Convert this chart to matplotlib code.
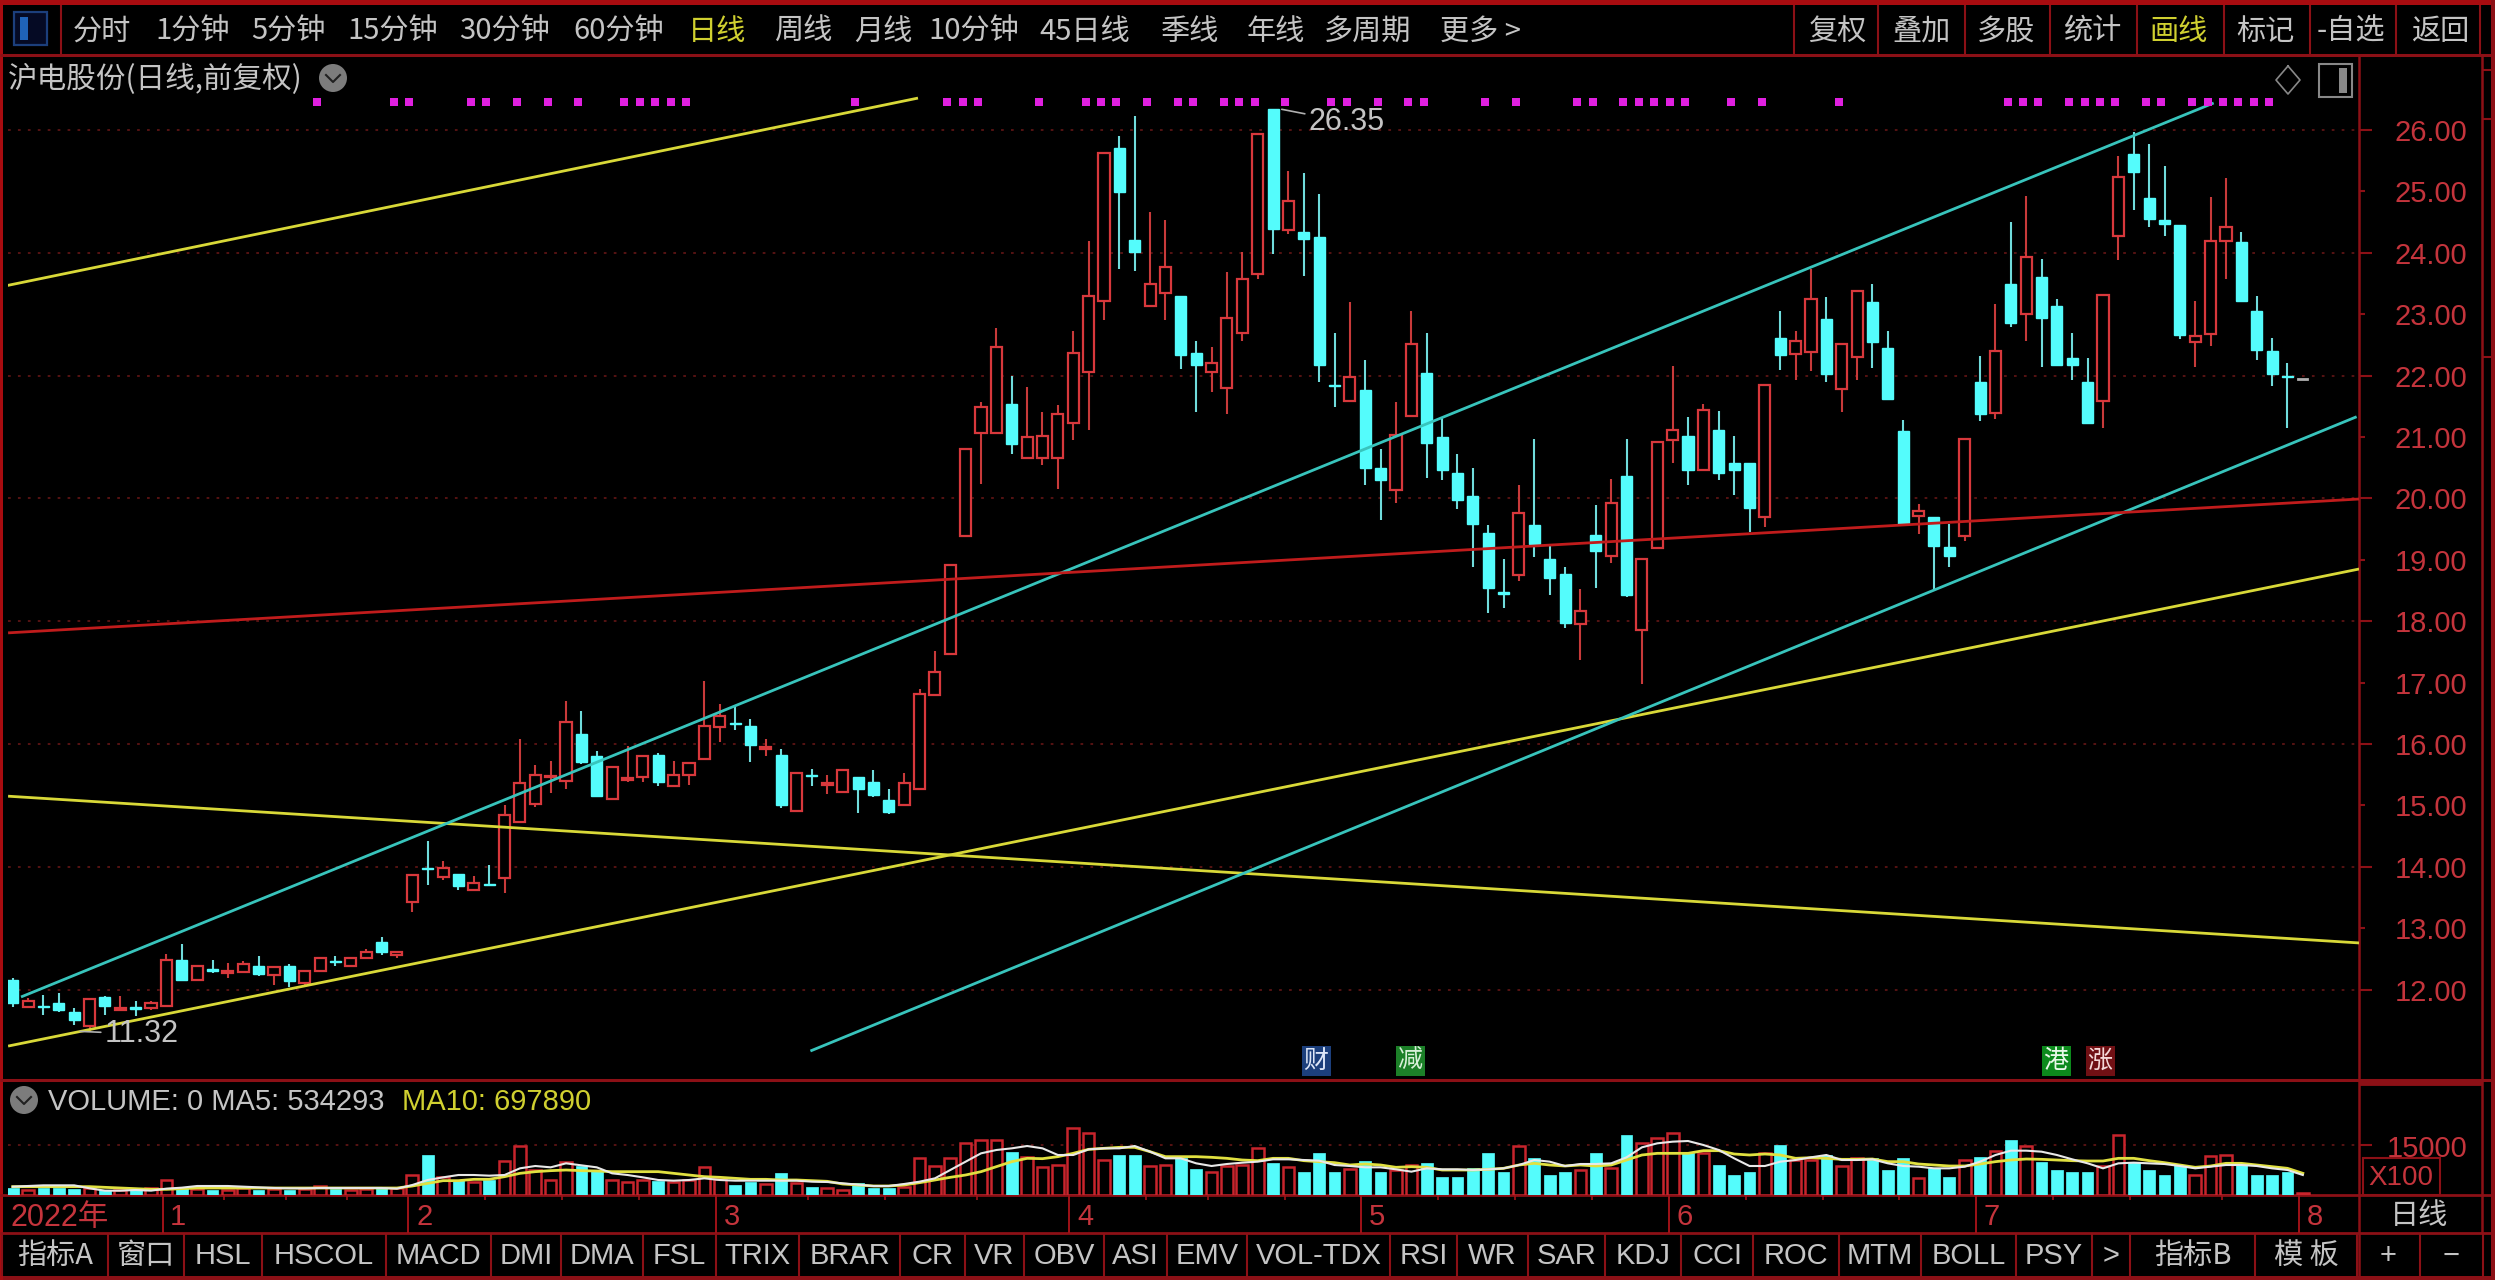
import matplotlib
matplotlib.use('Agg')
import matplotlib.pyplot as plt
from matplotlib.patches import Rectangle, Circle

# 日K (index 0 = first candle on the left)
opens = [12.15,11.71,11.74,11.78,11.63,11.41,11.88,11.66,11.71,11.70,
         11.73,12.49,12.15,12.33,12.27,12.28,12.38,12.23,12.38,12.11,
         12.31,12.47,12.39,12.51,12.78,12.56,13.43,13.98,13.84,13.89,
         13.63,13.72,13.82,14.73,15.03,15.46,15.40,16.17,15.81,15.11,
         15.42,15.46,15.82,15.31,15.49,15.76,16.27,16.35,16.30,15.92,
         15.82,14.91,15.50,15.34,15.22,15.46,15.38,15.09,15.00,15.27,
         16.79,17.46,19.38,21.06,21.07,21.53,20.66,20.66,20.66,21.22,
         22.06,23.22,25.70,24.21,23.13,23.34,23.30,22.37,22.06,21.79,
         22.70,23.66,26.34,24.37,24.34,24.25,21.85,21.58,21.77,20.49,
         20.14,21.35,22.04,21.00,20.41,20.04,19.44,18.47,18.76,19.57,
         19.01,18.77,17.95,19.41,19.06,20.37,17.86,19.19,20.95,21.01,
         20.46,21.12,20.57,20.57,19.70,22.61,22.35,22.38,22.92,21.78,
         22.31,23.20,22.45,21.09,19.71,19.69,19.21,19.38,21.89,21.39,
         23.49,23.00,23.60,23.13,22.29,21.89,21.59,24.28,25.61,24.89,
         24.54,24.46,22.55,22.67,24.20,24.17,23.05,22.40,22.00,21.97]
closes = [11.78,11.82,11.72,11.66,11.50,11.84,11.73,11.70,11.69,11.78,
          12.49,12.16,12.38,12.31,12.30,12.42,12.26,12.36,12.14,12.30,
          12.52,12.45,12.52,12.61,12.62,12.61,13.87,13.96,13.98,13.68,
          13.74,13.70,14.85,15.37,15.50,15.48,16.36,15.70,15.15,15.62,
          15.45,15.81,15.38,15.49,15.69,16.30,16.45,16.33,15.98,15.95,
          15.00,15.53,15.48,15.37,15.58,15.27,15.17,14.89,15.37,16.81,
          17.18,18.92,20.80,21.49,22.46,20.89,21.00,21.01,21.37,22.36,
          23.29,25.62,24.99,24.01,23.49,23.77,22.33,22.18,22.21,22.93,
          23.58,25.93,24.39,24.85,24.23,22.17,21.83,21.97,20.50,20.30,
          21.03,22.52,20.91,20.46,19.98,19.58,18.54,18.45,19.77,19.25,
          18.70,17.97,18.16,19.14,19.93,18.42,19.01,20.92,21.12,20.46,
          21.44,20.42,20.46,19.85,21.85,22.34,22.56,23.25,22.03,22.52,
          23.37,22.54,21.62,19.58,19.80,19.22,19.06,20.96,21.38,22.40,
          22.86,23.93,22.94,22.17,22.18,21.23,23.32,25.24,25.31,24.55,
          24.47,22.66,22.65,24.20,24.42,23.22,22.42,22.02,21.98,21.95]
highs = [12.19,11.86,11.92,11.95,11.70,11.84,11.89,11.89,11.82,11.82,
         12.58,12.75,12.38,12.49,12.43,12.46,12.54,12.38,12.42,12.30,
         12.52,12.54,12.52,12.66,12.86,12.61,13.87,14.42,14.09,13.89,
         13.85,14.03,15.00,16.08,15.65,15.73,16.70,16.54,15.89,15.62,
         15.97,15.81,15.85,15.73,15.69,17.02,16.65,16.62,16.41,16.08,
         15.92,15.53,15.60,15.49,15.60,15.46,15.57,15.27,15.52,16.89,
         17.52,18.92,20.80,21.57,22.78,21.99,21.82,21.41,21.52,22.73,
         24.20,25.62,25.91,26.22,24.66,24.54,23.30,22.57,22.47,23.69,
         24.01,25.93,26.35,25.34,25.30,24.95,22.69,23.20,22.25,20.81,
         21.57,23.06,22.69,21.33,20.73,20.49,19.57,19.01,20.22,20.97,
         19.24,18.89,18.52,19.89,20.32,20.97,19.01,20.92,22.16,21.32,
         21.54,21.42,21.01,20.57,21.85,23.05,22.72,23.73,23.28,22.52,
         23.37,23.49,22.72,21.28,19.91,19.69,19.58,20.96,22.32,23.17,
         24.50,24.93,23.90,23.25,22.69,22.29,23.32,25.58,25.96,25.78,
         25.42,24.46,23.22,24.91,25.22,24.34,23.29,22.62,22.21,21.97]
lows = [11.71,11.70,11.59,11.63,11.43,11.32,11.59,11.66,11.57,11.66,
        11.73,12.14,12.15,12.27,12.19,12.27,12.22,12.08,12.05,12.05,
        12.31,12.38,12.39,12.51,12.57,12.52,13.27,13.70,13.78,13.62,
        13.63,13.68,13.58,14.73,14.97,15.21,15.27,15.67,15.13,15.11,
        15.38,15.38,15.32,15.31,15.34,15.76,16.03,16.23,15.70,15.80,
        14.95,14.91,15.31,15.19,15.22,14.88,15.13,14.86,15.00,15.27,
        16.79,17.46,19.38,20.24,21.07,20.73,20.66,20.54,20.16,20.95,
        21.11,22.90,23.74,23.71,23.13,22.90,22.11,21.41,21.73,21.38,
        22.57,23.58,23.98,24.31,23.62,21.90,21.49,21.58,20.22,19.65,
        19.92,21.34,20.33,20.30,19.82,18.89,18.14,18.22,18.65,19.05,
        18.42,17.89,17.37,18.54,18.95,18.39,16.97,19.19,20.58,20.22,
        20.46,20.30,20.05,19.46,19.54,22.09,21.93,22.08,21.89,21.41,
        21.93,22.13,21.62,19.58,19.42,18.52,18.89,19.31,21.26,21.30,
        22.79,22.57,22.14,22.15,21.93,21.23,21.14,23.89,24.70,24.42,
        24.27,22.59,22.14,22.49,23.58,23.22,22.26,21.83,21.14,21.93]

# 成交量 (X100)
volumes = [2000,1500,2000,2000,1700,2000,1500,1500,1500,2000,
           4500,2000,1700,1500,1500,2000,1500,1700,1500,1700,
           2700,1700,1500,1700,2000,2000,6000,12000,5300,4500,
           4000,4500,10200,14700,7500,4500,10000,8700,7500,4500,
           4000,4500,4300,4000,4500,8300,4700,3000,4000,3300,
           6700,3700,2500,2000,1500,3500,2000,2000,2500,11000,
           8700,11000,15500,16500,16500,13000,11500,8500,9000,20000,
           18500,10500,12000,12000,8700,9000,11000,7700,7000,8700,
           9000,14000,9500,8300,7000,12700,7000,7700,10300,7000,
           7500,9000,9700,5300,5500,8000,12700,7000,14700,11000,
           6000,7000,7500,12700,8000,18000,15500,17000,18500,12500,
           12500,9000,6000,7000,12500,15000,10500,10500,12000,8700,
           11000,11200,7500,11200,5000,8000,5500,10500,11300,13300,
           16500,14700,10000,7500,7000,7000,8700,18000,10000,7500,
           6000,9000,6000,11700,12000,9000,6000,6000,7000,700]
ma5 = [2500,2700,2900,2900,2900,2000,1300,1300,1500,1300,
       1900,2200,2700,2700,2700,2500,2300,2100,2000,2000,
       2100,2100,2100,2100,2100,1900,3000,4500,5300,6000,
       6000,5800,6000,8000,8700,8300,9500,8900,8300,6500,
       6000,5300,4500,4300,4500,5000,4500,4300,4300,4300,
       4300,4300,4000,3900,3500,3100,2700,2700,3300,4000,
       5000,7500,10000,12500,13500,14000,14700,14000,12000,12000,
       13700,14000,14000,14700,13000,11000,11000,9500,8700,9300,
       9700,10000,10700,10700,10500,10300,9000,8700,8300,8300,
       7700,7000,8000,7700,7700,7500,7700,8000,9000,10500,
       10000,8700,9300,9300,9500,11300,14300,15500,16000,16200,
       15000,13500,11000,8700,8700,10000,10500,11300,12000,10500,
       10500,10700,9500,8700,8500,8000,8000,8500,10000,12000,
       13300,13300,13000,12000,10700,9500,8000,9500,9700,9500,
       9300,8700,8000,8500,9000,9000,8700,8000,7500,6000]
ma10 = [2500,2500,2500,2500,2500,2500,2300,2100,1900,1700,
        1700,1900,2100,2100,2100,2100,2100,2100,2100,2100,
        2100,2100,2100,2100,2100,2100,2700,3500,4300,4300,
        4700,4700,5500,6500,7000,7300,7500,7300,7200,7000,
        7000,7000,7000,6500,6000,5500,5300,5000,4700,4700,
        4500,4500,4300,4100,3300,3000,2700,2700,3000,3700,
        4500,5300,6000,7000,8500,10000,11000,10900,11500,12500,
        13700,14000,14300,14300,13000,11500,11500,11500,11300,11000,
        10500,10300,11000,11000,10300,10000,9700,9000,9300,9000,
        8300,8500,8300,7500,7500,7500,7700,8000,9000,9500,
        9000,8700,9000,8700,9000,10500,12000,12500,12500,12500,
        13300,13300,12300,12000,12300,12000,11000,11200,11000,10700,
        10700,10800,10000,10000,9300,9000,8700,8700,9300,10000,
        10500,10800,10700,10500,10300,10200,10200,11000,11000,10300,
        9700,9000,8300,8700,9500,9500,9000,8500,8000,6500]

# 画线: [index start, index end], [price start, price end]
yellow_top = ([-0.5, 58.9], [23.46, 26.52])
cyan_upper = ([0.54, 143.2], [11.88, 26.44])
cyan_lower = ([51.9, 152.5], [11.00, 21.33])
red_line = ([-0.3, 152.66], [17.81, 19.99])
yellow_up = ([-0.3, 152.66], [11.08, 18.85])
yellow_down = ([-0.3, 152.66], [15.15, 12.76])

signal_dots = [20,25,26,30,31,33,35,37,40,41,42,43,44,55,61,62,63,67,70,71,72,
               74,76,77,79,80,81,83,86,87,89,91,92,96,98,102,103,105,106,107,
               108,109,112,114,119,130,131,132,134,135,136,137,139,140,142,143,
               144,145,146,147]

price_ticks = [26,25,24,23,22,21,20,19,18,17,16,15,14,13,12]
month_idx = [10,26,46,69,88,108,128,149]
month_labels = ['1','2','3','4','5','6','7','8']
minor_idx = [14,18,22,31,36,41,52,57,63,74,78,83,93,98,103,113,118,123,133,138,144]

top_left = ['分时','1分钟','5分钟','15分钟','30分钟','60分钟','日线','周线','月线',
            '10分钟','45日线','季线','年线','多周期','更多 >']
top_left_x = [102,193,288,393,505,619,717,803,883,974,1085,1190,1276,1368,1480]
top_right = ['复权','叠加','多股','统计','画线','标记','-自选','返回']
top_right_x = [1837,1921,2006,2092,2179,2265,2351,2440]
top_right_sep = [1794,1878,1965,2050,2137,2224,2310,2396,2480]
tabs = ['指标A','窗口','HSL','HSCOL','MACD','DMI','DMA','FSL','TRIX','BRAR','CR','VR',
        'OBV','ASI','EMV','VOL-TDX','RSI','WR','SAR','KDJ','CCI','ROC','MTM','BOLL',
        'PSY','>','指标B','模 板','+','−']
tab_sep = [2,108,184,262,386,491,561,643,716,799,900,965,1024,1104,1167,1247,1390,1457,
           1528,1605,1681,1753,1839,1921,2016,2092,2130,2255,2357,2420,2483]

W, H = 2495, 1280
RED = '#a01218'
LINE_RED = '#8c1016'
UP = '#d8383c'
DOWN = '#54fcfc'
DOWN_WICK = '#70dcdc'
GRID = '#5c1414'
GREY = '#c4c4c4'
YELLOW = '#d0d030'
LABEL_RED = '#c4343c'
CJK = ['Noto Sans CJK SC', 'DejaVu Sans']
LATIN = ['Liberation Sans', 'Noto Sans CJK SC']

fig = plt.figure(figsize=(W / 100, H / 100), dpi=100, facecolor='black')

def px_axes(left, top, right, bottom, zorder=1):
    a = fig.add_axes([left / W, 1 - bottom / H, (right - left) / W, (bottom - top) / H], zorder=zorder)
    a.set_facecolor('none')
    a.set_axis_off()
    return a

def idx_lim():
    # first candle at px 12.7, one candle every 15.37 px
    return (8 - 12.7) / 15.37, (2359 - 12.7) / 15.37

# 底层: chrome in pixel coordinates
bg = px_axes(0, 0, W, H, zorder=0)
bg.set_xlim(0, W)
bg.set_ylim(H, 0)

ax = px_axes(8, 58, 2359, 1080, zorder=2)
ax.set_xlim(*idx_lim())
ax.set_ylim(26 - (1080 - 130) / 61.4, 26 + (130 - 58) / 61.4)

ax_vol = px_axes(8, 1080, 2359, 1195, zorder=2)
ax_vol.set_xlim(*idx_lim())
ax_vol.set_ylim(0, (1195 - 1080) * 300)

ax_date = px_axes(8, 1195, 2359, 1233, zorder=2)
ax_date.set_xlim(*idx_lim())
ax_date.set_ylim(1, 0)

# gridlines
for p in price_ticks:
    if p % 2 == 0:
        ax.axhline(p, color=GRID, lw=1.3, ls=(0, (1.5, 4)), zorder=1)
ax_vol.axhline(15000, color=GRID, lw=1.3, ls=(0, (1.5, 4)), zorder=1)

# candles
last = len(opens) - 1
for i in range(len(opens)):
    up = closes[i] > opens[i]
    if i == last:
        ax.plot([i - 0.3, i + 0.3], [closes[i], closes[i]], color='#b0b0b0', lw=2, zorder=3)
        continue
    wick = '#c83a3a' if up else DOWN_WICK
    ax.vlines(i, lows[i], highs[i], color=wick, lw=1.5, zorder=2)
    bottom = min(opens[i], closes[i])
    height = abs(opens[i] - closes[i])
    if up:
        ax.bar(i, height, bottom=bottom, width=0.72, facecolor='black', edgecolor=UP, lw=1.6, zorder=3)
    else:
        ax.bar(i, height, bottom=bottom, width=0.72, facecolor=DOWN, edgecolor=DOWN, lw=1.0, zorder=3)

# trend lines
for (xs, ys), color in [(yellow_top, '#d8d838'), (yellow_up, '#d8d838'), (yellow_down, '#d8d838'),
                        (cyan_upper, '#38c4bc'), (cyan_lower, '#38c4bc'), (red_line, '#c01c1c')]:
    ax.plot(xs, ys, color=color, lw=2, zorder=4, solid_capstyle='butt')

# 信号点
ax.scatter([d - 0.2 for d in signal_dots], [26 + (130 - 101.5) / 61.4] * len(signal_dots),
           marker='s', s=26, color='#e020e0', lw=0, zorder=5)

# high / low notes
ax.annotate('26.35', xy=(82.3, 26.35), xytext=(1309, 1280 - 122), textcoords='figure pixels',
            color=GREY, fontsize=22, family=LATIN, va='center', ha='left', zorder=6,
            arrowprops=dict(arrowstyle='-', color='#b0b0b0', lw=1.2, shrinkA=1, shrinkB=3))
ax.annotate('11.32', xy=(4.3, 11.32), xytext=(105, 1280 - 1034), textcoords='figure pixels',
            color=GREY, fontsize=22, family=LATIN, va='center', ha='left', zorder=6,
            arrowprops=dict(arrowstyle='-', color='#b0b0b0', lw=1.2, shrinkA=1, shrinkB=1))

# volume
for i, v in enumerate(volumes):
    if closes[i] > opens[i] or i == last:
        ax_vol.bar(i, v, width=0.76, facecolor='black', edgecolor='#c8242c', lw=1.8, zorder=2)
    else:
        ax_vol.bar(i, v, width=0.76, facecolor=DOWN, edgecolor=DOWN, lw=0.5, zorder=2)
ax_vol.plot(range(len(ma10)), ma10, color='#e0e040', lw=2, zorder=4)
ax_vol.plot(range(len(ma5)), ma5, color='#e8e8e8', lw=1.5, zorder=4)

# 日期
for m, label in zip(month_idx, month_labels):
    ax_date.vlines(m - 0.25, 0, 1, color=RED, lw=1.4)
    ax_date.text(m - 0.25 + 0.5, 0.58, label, color=LABEL_RED, fontsize=21, family=LATIN, va='center', ha='left')
ax_date.vlines([m - 0.25 for m in minor_idx], 0, 0.12, color=RED, lw=1.2)
bg.text(11, 1218, '2022年', color=LABEL_RED, fontsize=22, family=LATIN, va='center', ha='left')

# 框线
def hline(y, x0=0, x1=W, lw=1.5, color=LINE_RED):
    bg.plot([x0, x1], [y, y], color=color, lw=lw, solid_capstyle='butt')

def vline(x, y0, y1, lw=1.5, color=LINE_RED):
    bg.plot([x, x], [y0, y1], color=color, lw=lw, solid_capstyle='butt')

bg.add_patch(Rectangle((0, 0), W, 5, color='#a80c10', lw=0))
bg.add_patch(Rectangle((0, 1276), W, 4, color='#8c1016', lw=0))
bg.add_patch(Rectangle((0, 0), 3, H, color='#a80c10', lw=0))
bg.add_patch(Rectangle((2491, 0), 4, H, color='#8c1016', lw=0))
hline(55, lw=2.2)
hline(1080, lw=2.2)
hline(1195, lw=2)
hline(1233, lw=2)
vline(2359, 55, 1276, lw=1.8)
vline(2482, 55, 1233, lw=1.8)
hline(1083, 2359, 2482, lw=3.5)
vline(61, 5, 55)
for x in top_right_sep:
    vline(x, 5, 55)
for x in tab_sep:
    vline(x, 1233, 1276)

# toolbar
bg.add_patch(Rectangle((14, 12), 33, 33, facecolor='#050a24', edgecolor='#1c3f7c', lw=1.6))
bg.add_patch(Rectangle((20, 17), 8, 23, facecolor='#1f63b8', lw=0))
for label, x in zip(top_left, top_left_x):
    color = YELLOW if label == '日线' else GREY
    bg.text(x, 32, label, color=color, fontsize=21, family=CJK, va='center', ha='center')
for label, x in zip(top_right, top_right_x):
    color = YELLOW if label == '画线' else GREY
    bg.text(x, 32, label, color=color, fontsize=21, family=CJK, va='center', ha='center')

# title row
bg.text(8, 79, '沪电股份(日线,前复权)', color=GREY, fontsize=21.3, family=CJK, va='center', ha='left')
bg.add_patch(Circle((333, 78), 14, color='#7c7c7c', lw=0))
bg.plot([326, 333, 340], [75, 82, 75], color='#202020', lw=1.5)
bg.plot([2288, 2300, 2288, 2276, 2288], [66, 80, 94, 80, 66], color='#888888', lw=1.2)
bg.add_patch(Rectangle((2319, 64), 33, 33, facecolor='none', edgecolor='#888888', lw=1.5))
bg.add_patch(Rectangle((2339, 68), 8, 25, color='#888888', lw=0))

# price axis
for p in price_ticks:
    y = 130 + (26 - p) * 61.4
    long_tick = 13 if p % 2 == 0 else 6
    hline(y, 2359, 2359 + long_tick, lw=1.5)
    bg.text(2431, y + 3, '%.2f' % p, color=LABEL_RED, fontsize=21, family=LATIN, va='center', ha='center')
for y in [70, 119, 357]:
    hline(y, 2482, 2491, lw=1.5)

# volume legend
bg.add_patch(Circle((24, 1100), 14, color='#7c7c7c', lw=0))
bg.plot([17, 24, 31], [1097, 1104, 1097], color='#202020', lw=1.5)
bg.text(48, 1102, 'VOLUME: 0 MA5: 534293', color=GREY, fontsize=21, family=LATIN, va='center', ha='left')
bg.text(402, 1102, 'MA10: 697890', color=YELLOW, fontsize=21, family=LATIN, va='center', ha='left')
bg.text(2427, 1149, '15000', color=LABEL_RED, fontsize=21, family=LATIN, va='center', ha='center')
hline(1145, 2359, 2372)
bg.add_patch(Rectangle((2363, 1158), 77, 37, facecolor='black', edgecolor=LINE_RED, lw=1.5))
bg.text(2401, 1178, 'X100', color=LABEL_RED, fontsize=20, family=LATIN, va='center', ha='center')
bg.text(2419, 1216, '日线', color=GREY, fontsize=21, family=CJK, va='center', ha='center')

# 标记
for label, x, color, tc in [('财', 1316, '#1c3f7c', '#dde6f8'), ('减', 1410, '#1c8028', '#d8f0d8'),
                            ('港', 2056, '#0c8a1c', '#e8f8e8'), ('涨', 2100, '#701014', '#f4d8d8')]:
    bg.text(x, 1061, label, color=tc, fontsize=18, family=CJK, va='center', ha='center', zorder=6,
            bbox=dict(facecolor=color, edgecolor='none', pad=1.5))

# tabs
for k, label in enumerate(tabs):
    x = (tab_sep[k] + tab_sep[k + 1]) / 2
    bg.text(x, 1256, label, color=GREY, fontsize=21, family=LATIN if label[0] in 'ABCDEFGHIJKLMNOPQRSTUVWXYZ>+−' else CJK,
            va='center', ha='center')

fig.savefig('out.png', dpi=100, facecolor='black')
